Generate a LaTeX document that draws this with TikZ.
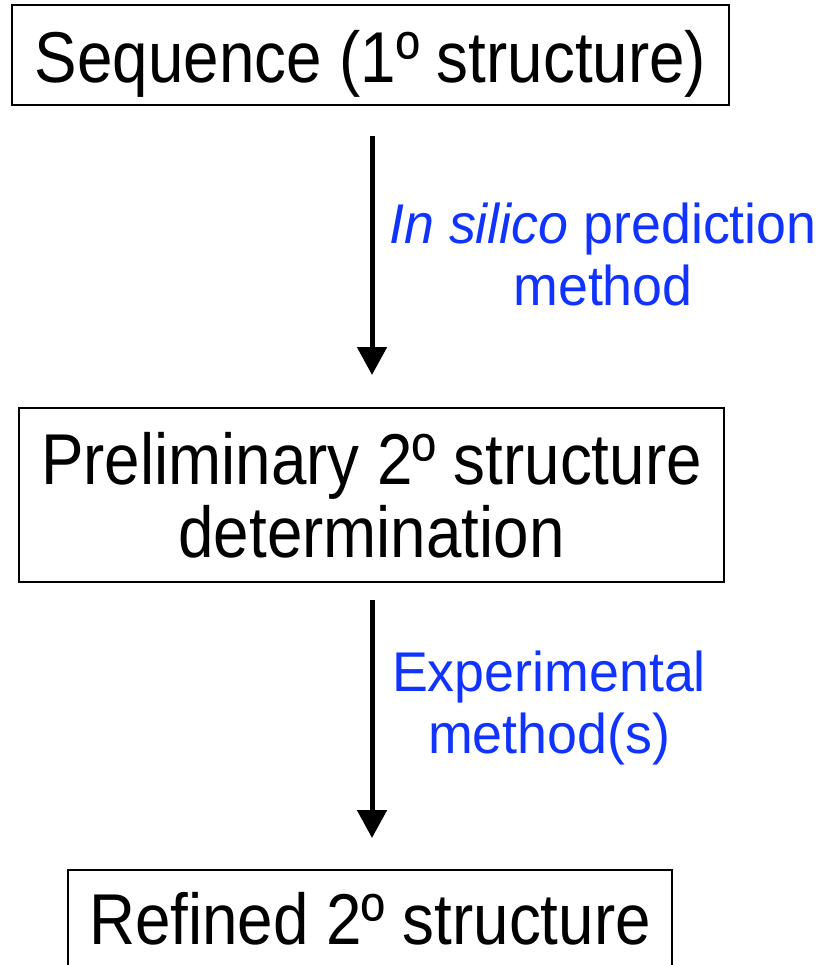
\documentclass[tikz,border=0pt]{standalone}
\usepackage{fontspec}
\setmainfont{Liberation Sans}
\newfontfamily\boxfont[FakeStretch=0.885]{Liberation Sans}
\newfontfamily\notefont[FakeStretch=0.96]{Liberation Sans}
\usetikzlibrary{arrows.meta}
\definecolor{noteblue}{RGB}{17,51,255}

\begin{document}
\begin{tikzpicture}[x=1pt,y=1pt,
  stage/.style={draw=black, line width=2pt, inner sep=0pt, align=center,
    font=\boxfont\fontsize{72}{73}\selectfont},
  flow/.style={line width=5pt, -{Triangle[length=28pt,width=29pt]}},
  note/.style={text=noteblue, align=center, inner sep=0pt,
    font=\notefont\fontsize{56}{62}\selectfont}]
\useasboundingbox (0,0) rectangle (823,-965);
\clip (0,0) rectangle (823,-965);
\coordinate (col) at (372,0);

% the three stages
\node[stage, minimum width=717pt, minimum height=100pt,
      text height=56pt, text depth=0pt] (seq) at (370.5,-55)
  {Sequence (1º structure)};
\node[stage, minimum width=705pt, minimum height=174pt] (prelim) at (371.5,-495)
  {Preliminary 2º structure\\determination};
\node[stage, minimum width=604pt, minimum height=97pt,
      text height=51.5pt, text depth=0pt] (refined) at (370,-918.5)
  {Refined 2º structure};

% transitions between stages
\draw[flow, shorten <=30pt, shorten >=32pt] (seq.south -| col) -- (prelim.north -| col);
\draw[flow, shorten <=17pt, shorten >=31pt] (prelim.south -| col) -- (refined.north -| col);

% methods used at each step
\node[note] (insilico) at (603,-254) {\textit{In silico} prediction\\method};
\node[note] (exper) at (549,-708) {Experimental\\method(s)};
\end{tikzpicture}
\end{document}
